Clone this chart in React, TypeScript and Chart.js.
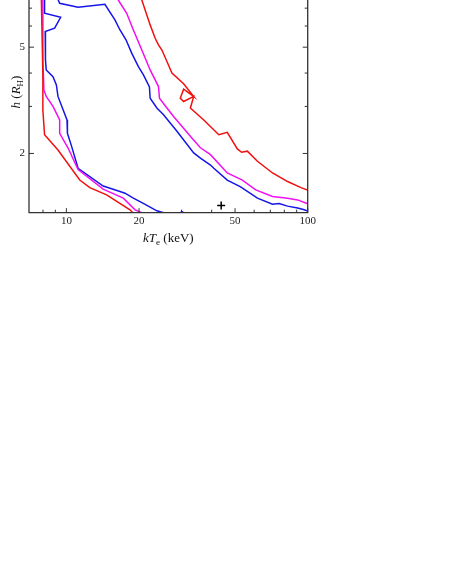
import React, { useEffect, useRef } from "react";
import { Chart, registerables } from "chart.js";

Chart.register(...registerables);

// Axis ranges and ticks
const X_MIN = 7;
const X_MAX = 100;
const Y_MIN = 1.2;
const Y_MAX = 7.51;
const xTicks = [8, 9, 10, 20, 30, 40, 50, 60, 70, 80, 90, 100];
const xLabeled = [10, 20, 50, 100];
const yTicks = [2, 3, 4, 5, 6, 7];
const yLabeled = [2, 5];

// Contours: [kTe (keV), h (R_H)]
const blueLeft: [number, number][] = [
  [8.12, 7.8], [8.12, 6.7], [9.47, 6.47], [8.94, 5.89], [8.17, 5.72], [8.19, 4.48],
  [8.25, 4.11], [8.8, 3.88], [9.09, 3.61], [9.23, 3.27], [9.7, 2.91], [10.06, 2.67],
  [10.1, 2.38], [10.49, 2.14], [11.18, 1.76], [14.21, 1.51], [16.68, 1.44], [17.5, 1.42],
  [18.95, 1.36], [21.2, 1.29], [23.71, 1.22], [25.27, 1.2], [29.5, 1.195], [30.14, 1.21],
  [30.8, 1.195], [32, 1.18],
];
const blueRight: [number, number][] = [
  [9.2, 7.6], [9.38, 7.3], [11.18, 7.06], [14.44, 7.24], [15.89, 6.33], [16.68, 5.8],
  [17.66, 5.33], [18.65, 4.75], [19.88, 4.23], [20.86, 3.94], [22.09, 3.55], [22.24, 3.22],
  [23.71, 2.96], [25.27, 2.79], [28.72, 2.42], [33.69, 2.01], [35.93, 1.92], [39.55, 1.81],
  [40.82, 1.76], [46.42, 1.59], [52.73, 1.5], [61.9, 1.36], [71.48, 1.29], [76.15, 1.3],
  [82.54, 1.27], [90.85, 1.25], [96.78, 1.23], [101.5, 1.21],
];
const magentaLeft: [number, number][] = [
  [7.99, 7.8], [7.99, 4.48], [8.07, 3.46], [8.25, 3.27], [8.8, 3.0], [9.38, 2.67],
  [9.38, 2.38], [10.15, 2.1], [11.18, 1.74], [14.21, 1.47], [17.21, 1.36], [19.26, 1.23],
  [20.54, 1.2], [20.9, 1.19],
];
const magentaRight: [number, number][] = [
  [16.1, 7.7], [16.41, 7.51], [17.78, 6.7], [18.95, 5.8], [20.54, 4.88], [22.24, 4.11],
  [24.08, 3.56], [24.31, 3.22], [26.1, 2.96], [27.81, 2.75], [33.17, 2.28], [35.93, 2.1],
  [39.55, 1.98], [46.42, 1.69], [53.59, 1.59], [60.89, 1.46], [71.48, 1.38], [82.54, 1.36],
  [90.85, 1.34], [101.5, 1.29],
];
const redLeft: [number, number][] = [
  [7.87, 7.8], [7.99, 3.94], [7.99, 2.91], [8.12, 2.35], [9.23, 2.06], [11.36, 1.59],
  [12.51, 1.49], [14.68, 1.4], [18.35, 1.23], [18.84, 1.2], [19.0, 1.19],
];
const redRight: [number, number][] = [
  [20.2, 7.8], [20.54, 7.51], [22.24, 6.06], [23.33, 5.4], [24.08, 5.1], [24.88, 4.88],
  [26.1, 4.42], [27.38, 4.0], [30.61, 3.65], [33.69, 3.27], [30.61, 3.48], [29.65, 3.22],
  [30.61, 3.13], [33.69, 3.27], [32.64, 2.96], [37.09, 2.67], [42.82, 2.35], [46.42, 2.4],
  [51.09, 2.08], [53.23, 2.02], [56.23, 2.04], [61.9, 1.87], [71.48, 1.69], [82.54, 1.57],
  [93.79, 1.49], [101.5, 1.45],
];
const bestFit: [number, number][] = [[43.8, 1.277]];

const RED = "#f01010";
const MAGENTA = "#f010f0";
const BLUE = "#1515e8";
const SERIF = '"Liberation Serif", "Times New Roman", serif';

type Seg = { t: string; it?: boolean; sub?: boolean };

function drawRich(ctx: CanvasRenderingContext2D, segs: Seg[], cx: number, cy: number, rot: number) {
  const base = 13;
  const subSize = 9;
  const fontOf = (s: Seg) => `${s.it ? "italic " : ""}${s.sub ? subSize : base}px ${SERIF}`;
  const widths = segs.map((s) => {
    ctx.font = fontOf(s);
    return ctx.measureText(s.t).width;
  });
  const total = widths.reduce((a, b) => a + b, 0);
  ctx.save();
  ctx.translate(cx, cy);
  ctx.rotate(rot);
  ctx.textAlign = "left";
  ctx.textBaseline = "alphabetic";
  ctx.fillStyle = "#111";
  let xPos = -total / 2;
  segs.forEach((s, i) => {
    ctx.font = fontOf(s);
    ctx.fillText(s.t, xPos, s.sub ? 3 : 0);
    xPos += widths[i];
  });
  ctx.restore();
}

const framePlugin = {
  id: "frame",
  afterDatasetsDraw(chart: any) {
    const { ctx, chartArea: a, scales } = chart;
    const x = scales.x;
    const y = scales.y;
    ctx.save();
    ctx.strokeStyle = "#333";
    ctx.lineWidth = 1.3;
    ctx.beginPath();
    ctx.moveTo(a.left, a.top);
    ctx.lineTo(a.left, a.bottom);
    ctx.lineTo(a.right, a.bottom);
    ctx.lineTo(a.right, a.top);
    ctx.stroke();
    ctx.lineWidth = 1;
    ctx.beginPath();
    xTicks.forEach((v) => {
      const px = x.getPixelForValue(v);
      const len = xLabeled.includes(v) ? 4.5 : 3;
      ctx.moveTo(px, a.bottom);
      ctx.lineTo(px, a.bottom - len);
    });
    yTicks.forEach((v) => {
      const py = y.getPixelForValue(v);
      const len = yLabeled.includes(v) ? 5 : 3;
      ctx.moveTo(a.left, py);
      ctx.lineTo(a.left + len, py);
      ctx.moveTo(a.right, py);
      ctx.lineTo(a.right - len, py);
    });
    ctx.stroke();
    ctx.restore();

    drawRich(
      ctx,
      [{ t: "k", it: true }, { t: "T", it: true }, { t: "e", sub: true }, { t: " (keV)" }],
      (a.left + a.right) / 2,
      242,
      0
    );
    drawRich(
      ctx,
      [{ t: "h", it: true }, { t: " (" }, { t: "R", it: true }, { t: "H", sub: true }, { t: ")" }],
      20,
      92,
      -Math.PI / 2
    );
  },
};

const toPts = (arr: [number, number][]) => arr.map(([x, y]) => ({ x, y }));

const lineDs = (data: [number, number][], color: string) => ({
  data: toPts(data),
  borderColor: color,
  borderWidth: 1.5,
  pointRadius: 0,
  fill: false,
  tension: 0,
  showLine: true,
});

export default function App() {
  const ref = useRef<HTMLCanvasElement | null>(null);

  useEffect(() => {
    if (!ref.current) return;
    const chart = new Chart(ref.current, {
      type: "line",
      data: {
        datasets: [
          lineDs(redLeft, RED),
          lineDs(redRight, RED),
          lineDs(magentaLeft, MAGENTA),
          lineDs(magentaRight, MAGENTA),
          lineDs(blueLeft, BLUE),
          lineDs(blueRight, BLUE),
          {
            data: toPts(bestFit),
            showLine: false,
            pointStyle: "cross",
            pointRadius: 4,
            borderColor: "#000",
            backgroundColor: "#000",
            borderWidth: 1.5,
          } as any,
        ],
      },
      plugins: [framePlugin],
      options: {
        responsive: false,
        animation: false,
        events: [],
        layout: {
          autoPadding: false,
          padding: { left: 0, top: 0, right: 450 - 307.7, bottom: 583 - 212.7 - 30 },
        },
        plugins: { legend: { display: false }, tooltip: { enabled: false }, title: { display: false } },
        scales: {
          x: {
            type: "logarithmic",
            min: X_MIN,
            max: X_MAX,
            grid: { display: false, drawTicks: false },
            border: { display: false },
            afterBuildTicks: (s: any) => {
              s.ticks = xTicks.map((v) => ({ value: v }));
            },
            afterFit: (s: any) => {
              s.height = 30;
              s.paddingLeft = 0;
              s.paddingRight = 0;
            },
            ticks: {
              autoSkip: false,
              maxRotation: 0,
              padding: 2,
              color: "#222",
              font: { family: SERIF, size: 11 },
              callback: (v: any) => (xLabeled.includes(Number(v)) ? String(v) : ""),
            },
          },
          y: {
            type: "logarithmic",
            min: Y_MIN,
            max: Y_MAX,
            grid: { display: false, drawTicks: false },
            border: { display: false },
            afterBuildTicks: (s: any) => {
              s.ticks = yTicks.map((v) => ({ value: v }));
            },
            afterFit: (s: any) => {
              s.width = 29;
              s.paddingTop = 0;
              s.paddingBottom = 0;
            },
            ticks: {
              autoSkip: false,
              padding: 4,
              color: "#222",
              font: { family: SERIF, size: 11 },
              callback: (v: any) => (yLabeled.includes(Number(v)) ? String(v) : ""),
            },
          },
        },
      },
    } as any);
    return () => chart.destroy();
  }, []);

  return (
    <div style={{ position: "absolute", left: 0, top: 0, width: 450, height: 583, background: "#fff" }}>
      <canvas ref={ref} width={450} height={583} style={{ display: "block", width: 450, height: 583 }} />
    </div>
  );
}
